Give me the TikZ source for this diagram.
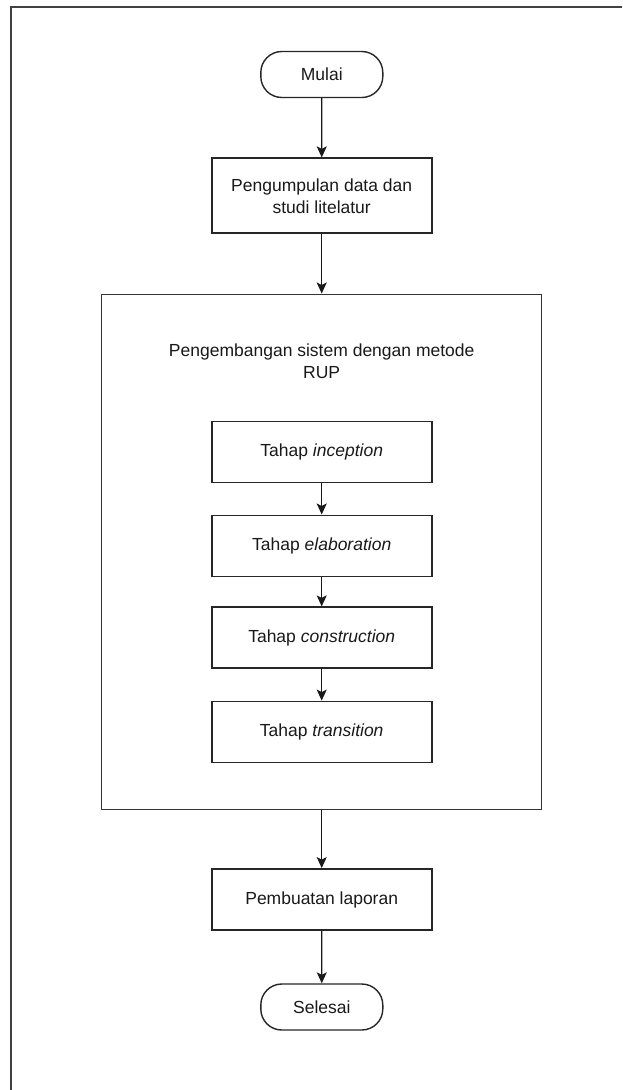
\documentclass[tikz,border=0pt]{standalone}
\usepackage{fontspec}
\setmainfont{Liberation Sans}
\usetikzlibrary{arrows.meta}

\begin{document}
\begin{tikzpicture}[x=1pt,y=-1pt,
  font=\fontsize{17.5}{22}\selectfont,
  every node/.style={text=black!90},
  terminal/.style={draw=black!85, line width=1.4pt, rectangle, rounded corners=21pt,
    minimum width=122pt, minimum height=46pt, inner sep=0pt},
  process/.style={draw=black!85, line width=1.8pt, rectangle,
    minimum width=220pt, minimum height=61pt, inner sep=0pt, align=center},
  group/.style={draw=black!80, line width=1.4pt, rectangle,
    minimum width=440pt, minimum height=515pt, inner sep=0pt},
  flow/.style={draw=black!90, line width=1.2pt,
    -{Stealth[length=11pt,width=10pt,inset=2.5pt]}}
]
\useasboundingbox (0,0) rectangle (622,1090);

% page frame
\draw[draw=black!75, line width=1.6pt] (622,7) -- (11,7) -- (11,1090);

% outer flow
\node[terminal] (start) at (321.8,74.5) {Mulai};
\node[process, minimum height=75pt] (collect) at (321.7,195.8)
  {Pengumpulan data dan\\studi litelatur};
\node[group] (rup) at (321.7,551.7) {};
\node[align=center] (ruptitle) at (321.7,361)
  {Pengembangan sistem dengan metode\\RUP};

% RUP phases
\node[process] (inc) at (321.7,452) {Tahap \textit{inception}};
\node[process] (ela) at (321.7,545.9) {Tahap \textit{elaboration}};
\node[process] (con) at (321.7,637.8) {Tahap \textit{construction}};
\node[process] (tra) at (321.7,732) {Tahap \textit{transition}};

\node[process] (report) at (321.7,899.5) {Pembuatan laporan};
\node[terminal] (finish) at (321.8,1007) {Selesai};

% connectors
\draw[flow] (start) -- (collect);
\draw[flow] (collect) -- (rup);
\draw[flow] (inc) -- (ela);
\draw[flow] (ela) -- (con);
\draw[flow] (con) -- (tra);
\draw[flow] (rup) -- (report);
\draw[flow] (report) -- (finish);
\end{tikzpicture}
\end{document}
